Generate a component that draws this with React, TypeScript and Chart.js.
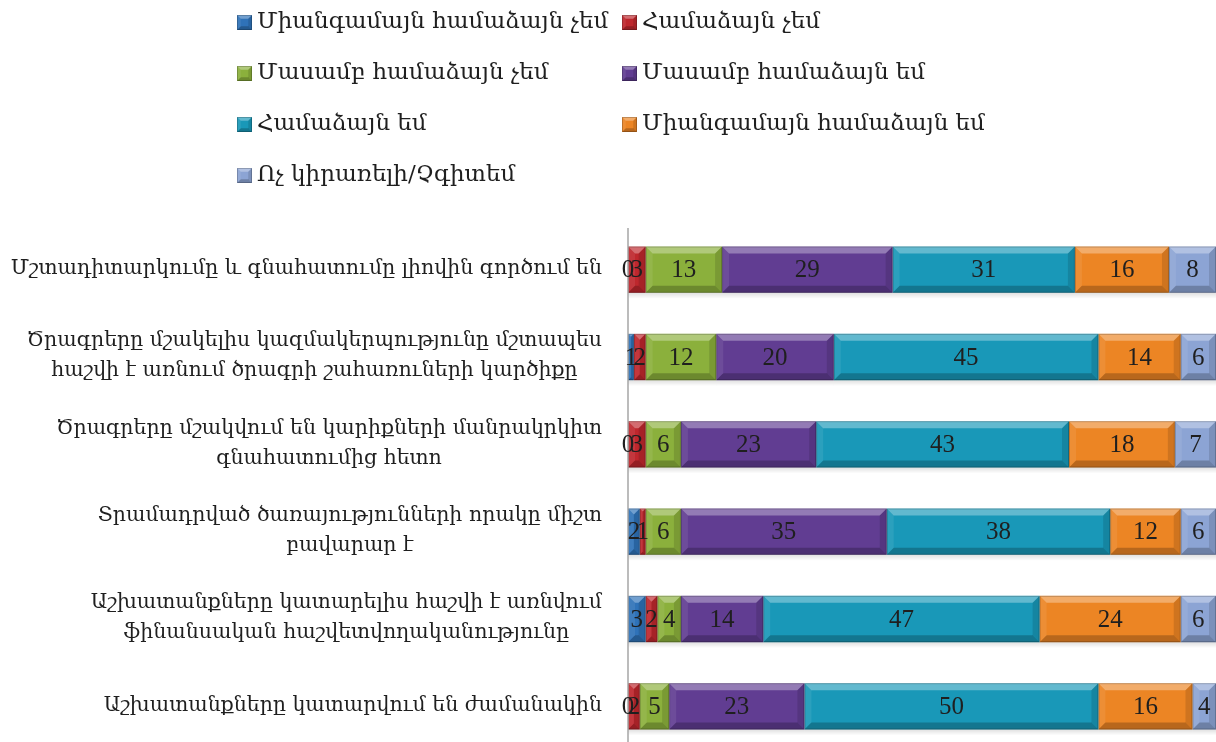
import React, { useEffect, useRef } from "react";
import { Chart, registerables } from "chart.js";

Chart.register(...registerables);

const categories: string[][] = [
  ["Մշտադիտարկումը և գնահատումը լիովին գործում են"],
  ["Ծրագրերը մշակելիս կազմակերպությունը մշտապես", "հաշվի է առնում ծրագրի շահառուների կարծիքը"],
  ["Ծրագրերը մշակվում են կարիքների մանրակրկիտ", "գնահատումից հետո"],
  ["Տրամադրված ծառայությունների որակը միշտ", "բավարար է"],
  ["Աշխատանքները կատարելիս հաշվի է առնվում", "ֆինանսական հաշվետվողականությունը"],
  ["Աշխատանքները կատարվում են ժամանակին"],
];

const seriesNames = [
  "Միանգամայն համաձայն չեմ",
  "Համաձայն չեմ",
  "Մասամբ համաձայն չեմ",
  "Մասամբ համաձայն եմ",
  "Համաձայն եմ",
  "Միանգամայն համաձայն եմ",
  "Ոչ կիրառելի/Չգիտեմ",
];

const stronglyDisagree = [0, 1, 0, 2, 3, 0];
const disagree = [3, 2, 3, 1, 2, 2];
const partlyDisagree = [13, 12, 6, 6, 4, 5];
const partlyAgree = [29, 20, 23, 35, 14, 23];
const agree = [31, 45, 43, 38, 47, 50];
const stronglyAgree = [16, 14, 18, 12, 24, 16];
const notApplicable = [8, 6, 7, 6, 6, 4];

const seriesValues = [
  stronglyDisagree,
  disagree,
  partlyDisagree,
  partlyAgree,
  agree,
  stronglyAgree,
  notApplicable,
];

const seriesColors = [
  "#2F72B8",
  "#BE272D",
  "#8BB03C",
  "#613D92",
  "#1998B8",
  "#EC8524",
  "#8CA4D4",
];

const LABEL_FONT = "'DejaVu Serif', 'Liberation Serif', serif";
const NUM_FONT = "'Liberation Serif', 'DejaVu Serif', serif";

function poly(ctx: CanvasRenderingContext2D, pts: number[][], fill: string) {
  ctx.beginPath();
  ctx.moveTo(pts[0][0], pts[0][1]);
  for (let i = 1; i < pts.length; i++) ctx.lineTo(pts[i][0], pts[i][1]);
  ctx.closePath();
  ctx.fillStyle = fill;
  ctx.fill();
}

function bevel(ctx: CanvasRenderingContext2D, x: number, y: number, w: number, h: number, bIn = 7) {
  if (w <= 0 || h <= 0) return;
  ctx.save();
  const b = Math.min(bIn, w / 2, h / 4);
  // top
  poly(ctx, [[x, y], [x + w, y], [x + w - b, y + b], [x + b, y + b]], "rgba(255,255,255,0.32)");
  // bottom
  poly(ctx, [[x, y + h], [x + w, y + h], [x + w - b, y + h - b], [x + b, y + h - b]], "rgba(0,0,0,0.22)");
  // left
  poly(ctx, [[x, y], [x + b, y + b], [x + b, y + h - b], [x, y + h]], "rgba(255,255,255,0.08)");
  // right
  poly(ctx, [[x + w, y], [x + w - b, y + b], [x + w - b, y + h - b], [x + w, y + h]], "rgba(0,0,0,0.12)");
  ctx.strokeStyle = "rgba(0,0,0,0.2)";
  ctx.lineWidth = 1;
  ctx.strokeRect(x + 0.5, y + 0.5, Math.max(0, w - 1), h - 1);
  ctx.restore();
}

const decorPlugin = {
  id: "decor",
  afterDatasetsDraw(chart: any) {
    const ctx: CanvasRenderingContext2D = chart.ctx;
    const area = chart.chartArea;
    // bevels and soft shadow
    chart.data.datasets.forEach((_: any, di: number) => {
      const meta = chart.getDatasetMeta(di);
      meta.data.forEach((bar: any) => {
        const left = Math.min(bar.base, bar.x);
        const w = Math.abs(bar.x - bar.base);
        const top = bar.y - bar.height / 2;
        if (w > 0) {
          ctx.save();
          const g = ctx.createLinearGradient(0, top + bar.height, 0, top + bar.height + 6);
          g.addColorStop(0, "rgba(0,0,0,0.12)");
          g.addColorStop(1, "rgba(0,0,0,0)");
          ctx.fillStyle = g;
          ctx.fillRect(left, top + bar.height, w, 6);
          ctx.restore();
        }
        bevel(ctx, left, top, w, bar.height);
      });
    });
    // axis line
    ctx.save();
    ctx.strokeStyle = "#A6A6A6";
    ctx.lineWidth = 1.5;
    ctx.beginPath();
    ctx.moveTo(area.left, area.top + 2);
    ctx.lineTo(area.left, area.bottom);
    ctx.stroke();
    ctx.restore();
    // value labels
    ctx.save();
    ctx.font = `25px ${NUM_FONT}`;
    ctx.fillStyle = "#1F1F1F";
    ctx.textAlign = "center";
    ctx.textBaseline = "middle";
    chart.data.datasets.forEach((ds: any, di: number) => {
      const meta = chart.getDatasetMeta(di);
      meta.data.forEach((bar: any, i: number) => {
        const cx = (bar.x + bar.base) / 2;
        ctx.fillText(String(ds.data[i]), cx, bar.y + 1);
      });
    });
    ctx.restore();
    // category labels
    const yScale = chart.scales.y;
    ctx.save();
    ctx.font = `20.5px ${LABEL_FONT}`;
    ctx.fillStyle = "#1F1F1F";
    ctx.textAlign = "center";
    ctx.textBaseline = "middle";
    const right = area.left - 26;
    const lh = 30;
    categories.forEach((lines, i) => {
      const cy = yScale.getPixelForValue(i) - 1;
      const bw = Math.max(...lines.map((l) => ctx.measureText(l).width));
      const cx = right - bw / 2;
      const y0 = cy - ((lines.length - 1) * lh) / 2;
      lines.forEach((l, k) => ctx.fillText(l, cx, y0 + k * lh));
    });
    ctx.restore();
    // legend
    ctx.save();
    ctx.font = `23px ${LABEL_FONT}`;
    ctx.textAlign = "left";
    ctx.textBaseline = "middle";
    const colX = [237, 622];
    const rowY = [22, 73, 124, 175];
    seriesNames.forEach((name, i) => {
      const x = colX[i % 2];
      const y = rowY[Math.floor(i / 2)];
      ctx.fillStyle = seriesColors[i];
      ctx.fillRect(x, y - 7, 15, 15);
      bevel(ctx, x, y - 7, 15, 15, 4);
      ctx.fillStyle = "#1F1F1F";
      ctx.fillText(name, x + 20, y);
    });
    ctx.restore();
  },
};

export default function App() {
  const ref = useRef<HTMLCanvasElement>(null);
  useEffect(() => {
    if (!ref.current) return;
    const chart = new Chart(ref.current, {
      type: "bar",
      data: {
        labels: categories.map((c) => c.join(" ")),
        datasets: seriesNames.map((name, i) => ({
          label: name,
          data: seriesValues[i],
          backgroundColor: seriesColors[i],
          borderWidth: 0,
          barPercentage: 0.53,
          categoryPercentage: 1,
        })),
      },
      options: {
        indexAxis: "y",
        responsive: false,
        animation: false,
        devicePixelRatio: 1,
        layout: { padding: { left: 628, top: 226, right: 0, bottom: 0 } },
        plugins: { legend: { display: false }, tooltip: { enabled: false } },
        scales: {
          x: { stacked: true, min: 0, max: 100, display: false },
          y: { stacked: true, display: false },
        },
      },
      plugins: [decorPlugin],
    });
    return () => chart.destroy();
  }, []);
  return (
    <div style={{ position: "fixed", left: 0, top: 0, width: 1216, height: 750, background: "#fff" }}>
      <canvas ref={ref} width={1216} height={750} style={{ display: "block" }} />
    </div>
  );
}
